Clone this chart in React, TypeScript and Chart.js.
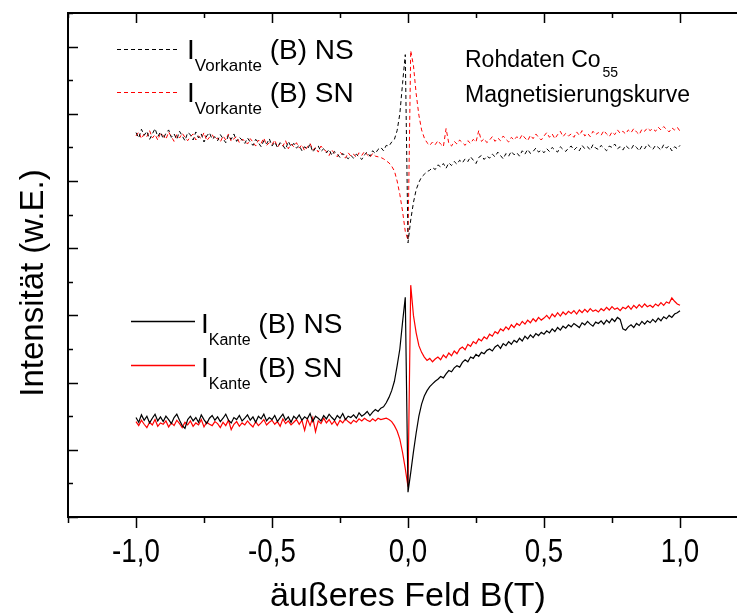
import React, { useEffect, useRef } from "react";
import { Chart, registerables } from "chart.js";

Chart.register(...registerables);

// Magnetic field B (T)
const B = [
  -1.0, -0.99, -0.98, -0.97, -0.96, -0.95, -0.94, -0.93, -0.92, -0.91,
  -0.9, -0.89, -0.88, -0.87, -0.86, -0.85, -0.84, -0.83, -0.82, -0.81,
  -0.8, -0.79, -0.78, -0.77, -0.76, -0.75, -0.74, -0.73, -0.72, -0.71,
  -0.7, -0.69, -0.68, -0.67, -0.66, -0.65, -0.64, -0.63, -0.62, -0.61,
  -0.6, -0.59, -0.58, -0.57, -0.56, -0.55, -0.54, -0.53, -0.52, -0.51,
  -0.5, -0.49, -0.48, -0.47, -0.46, -0.45, -0.44, -0.43, -0.42, -0.41,
  -0.4, -0.39, -0.38, -0.37, -0.36, -0.35, -0.34, -0.33, -0.32, -0.31,
  -0.3, -0.29, -0.28, -0.27, -0.26, -0.25, -0.24, -0.23, -0.22, -0.21,
  -0.2, -0.19, -0.18, -0.17, -0.16, -0.15, -0.14, -0.13, -0.12, -0.11,
  -0.1, -0.09, -0.08, -0.07, -0.06, -0.05, -0.04, -0.03, -0.02, -0.01,
  0.0, 0.01, 0.02, 0.03, 0.04, 0.05, 0.06, 0.07, 0.08, 0.09,
  0.1, 0.11, 0.12, 0.13, 0.14, 0.15, 0.16, 0.17, 0.18, 0.19,
  0.2, 0.21, 0.22, 0.23, 0.24, 0.25, 0.26, 0.27, 0.28, 0.29,
  0.3, 0.31, 0.32, 0.33, 0.34, 0.35, 0.36, 0.37, 0.38, 0.39,
  0.4, 0.41, 0.42, 0.43, 0.44, 0.45, 0.46, 0.47, 0.48, 0.49,
  0.5, 0.51, 0.52, 0.53, 0.54, 0.55, 0.56, 0.57, 0.58, 0.59,
  0.6, 0.61, 0.62, 0.63, 0.64, 0.65, 0.66, 0.67, 0.68, 0.69,
  0.7, 0.71, 0.72, 0.73, 0.74, 0.75, 0.76, 0.77, 0.78, 0.79,
  0.8, 0.81, 0.82, 0.83, 0.84, 0.85, 0.86, 0.87, 0.88, 0.89,
  0.9, 0.91, 0.92, 0.93, 0.94, 0.95, 0.96, 0.97, 0.98, 0.99,
  1.0,
];

// I_Vorkante(B) NS (dashed black)
const vorkanteNS = [
  5.72, 5.64, 5.77, 5.68, 5.74, 5.62, 5.70, 5.78, 5.66, 5.73,
  5.63, 5.71, 5.76, 5.65, 5.70, 5.62, 5.74, 5.67, 5.60, 5.72,
  5.69, 5.61, 5.73, 5.64, 5.70, 5.58, 5.67, 5.72, 5.62, 5.66,
  5.60, 5.69, 5.63, 5.57, 5.68, 5.62, 5.70, 5.59, 5.65, 5.61,
  5.56, 5.64, 5.58, 5.53, 5.62, 5.57, 5.51, 5.60, 5.55, 5.63,
  5.52, 5.58, 5.50, 5.57, 5.53, 5.47, 5.59, 5.51, 5.56, 5.49,
  5.53, 5.45, 5.51, 5.47, 5.55, 5.43, 5.49, 5.52, 5.44, 5.48,
  5.42, 5.47, 5.38, 5.44, 5.40, 5.35, 5.41, 5.37, 5.33, 5.38,
  5.34, 5.40, 5.36, 5.32, 5.39, 5.43, 5.37, 5.45, 5.41, 5.47,
  5.50, 5.45, 5.53, 5.52, 5.58, 5.62, 5.75, 6.00, 6.45, 6.88,
  4.08, 4.42, 4.68, 4.87, 4.98, 5.06, 5.10, 5.14, 5.16, 5.20,
  5.17, 5.24, 5.21, 5.26, 5.19, 5.27, 5.23, 5.29, 5.25, 5.31,
  5.27, 5.33, 5.29, 5.36, 5.31, 5.26, 5.35, 5.38, 5.32, 5.37,
  5.34, 5.40, 5.36, 5.43, 5.38, 5.33, 5.41, 5.37, 5.44, 5.39,
  5.42, 5.37, 5.45, 5.40, 5.47, 5.41, 5.44, 5.49, 5.43, 5.46,
  5.42, 5.48, 5.44, 5.50, 5.46, 5.43, 5.51, 5.47, 5.44, 5.49,
  5.52, 5.46, 5.50, 5.45, 5.53, 5.48, 5.51, 5.46, 5.54, 5.49,
  5.47, 5.53, 5.49, 5.45, 5.52, 5.50, 5.55, 5.48, 5.51, 5.46,
  5.53, 5.49, 5.47, 5.54, 5.50, 5.45, 5.52, 5.48, 5.55, 5.51,
  5.47, 5.53, 5.50, 5.46, 5.54, 5.49, 5.52, 5.45, 5.51, 5.48,
  5.53,
];

// I_Vorkante(B) SN (dashed red)
const vorkanteSN = [
  5.67, 5.73, 5.63, 5.70, 5.66, 5.75, 5.64, 5.69, 5.61, 5.71,
  5.68, 5.62, 5.73, 5.66, 5.59, 5.69, 5.64, 5.71, 5.65, 5.60,
  5.66, 5.70, 5.61, 5.67, 5.63, 5.72, 5.60, 5.65, 5.69, 5.62,
  5.64, 5.58, 5.67, 5.61, 5.70, 5.59, 5.63, 5.66, 5.57, 5.62,
  5.60, 5.55, 5.63, 5.58, 5.52, 5.61, 5.56, 5.64, 5.53, 5.57,
  5.54, 5.61, 5.50, 5.56, 5.52, 5.60, 5.48, 5.55, 5.51, 5.57,
  5.49, 5.54, 5.45, 5.51, 5.56, 5.46, 5.50, 5.43, 5.52, 5.47,
  5.44, 5.38, 5.46, 5.41, 5.36, 5.43, 5.39, 5.34, 5.42, 5.37,
  5.40, 5.35, 5.42, 5.38, 5.44, 5.39, 5.35, 5.41, 5.37, 5.36,
  5.35, 5.33, 5.30, 5.27, 5.22, 5.15, 5.00, 4.80, 4.55, 4.25,
  4.12, 6.94, 6.72, 6.30, 5.98, 5.76, 5.64, 5.57, 5.53, 5.58,
  5.54, 5.60, 5.55, 5.51, 5.78, 5.56, 5.52, 5.59, 5.55, 5.61,
  5.57, 5.53, 5.60, 5.56, 5.62, 5.58, 5.75, 5.59, 5.63, 5.57,
  5.61, 5.66, 5.59, 5.64, 5.60, 5.67, 5.62, 5.58, 5.65, 5.61,
  5.66, 5.62, 5.69, 5.64, 5.60, 5.68, 5.63, 5.70, 5.65, 5.61,
  5.67, 5.72, 5.65, 5.70, 5.63, 5.69, 5.74, 5.66, 5.71, 5.67,
  5.70, 5.65, 5.73, 5.68, 5.75, 5.67, 5.71, 5.66, 5.74, 5.69,
  5.72, 5.68, 5.75, 5.70, 5.66, 5.73, 5.69, 5.76, 5.71, 5.74,
  5.70, 5.76, 5.72, 5.78, 5.73, 5.69, 5.77, 5.74, 5.79, 5.75,
  5.78, 5.74, 5.80, 5.76, 5.81, 5.77, 5.73, 5.79, 5.76, 5.80,
  5.74,
];

// I_Kante(B) NS (solid black)
const kanteNS = [
  1.48, 1.41, 1.52, 1.44, 1.50, 1.40, 1.47, 1.53, 1.43, 1.49,
  1.42, 1.50, 1.45, 1.39, 1.48, 1.53, 1.44, 1.36, 1.32, 1.45,
  1.50, 1.43, 1.48, 1.41, 1.52, 1.45, 1.39, 1.47, 1.51, 1.44,
  1.49, 1.42, 1.47, 1.53, 1.44, 1.40, 1.48, 1.45, 1.51, 1.43,
  1.47, 1.52, 1.44, 1.49, 1.41, 1.50, 1.46, 1.53, 1.43, 1.48,
  1.45, 1.51, 1.42, 1.48, 1.53, 1.44, 1.49, 1.41, 1.50, 1.46,
  1.52, 1.44, 1.49, 1.46, 1.54, 1.42, 1.50, 1.47, 1.43, 1.51,
  1.46, 1.53, 1.48, 1.44, 1.51, 1.47, 1.54, 1.45, 1.50, 1.48,
  1.52, 1.47, 1.55, 1.50, 1.53, 1.57, 1.51, 1.56, 1.60, 1.57,
  1.62, 1.64, 1.70, 1.78, 1.88, 2.02, 2.25, 2.50, 2.90, 3.27,
  0.37, 0.66, 0.97, 1.25, 1.50, 1.68, 1.80, 1.88, 1.94, 1.98,
  2.02, 2.05, 2.09, 2.07, 2.13, 2.18, 2.16, 2.22, 2.25, 2.23,
  2.30, 2.34, 2.31, 2.38, 2.36, 2.42, 2.39, 2.45, 2.43, 2.48,
  2.50, 2.47, 2.53, 2.56, 2.51, 2.58, 2.55, 2.61, 2.57, 2.63,
  2.60, 2.66, 2.62, 2.69, 2.65, 2.71, 2.67, 2.73, 2.70, 2.75,
  2.72, 2.77, 2.74, 2.80, 2.76, 2.82, 2.78, 2.84, 2.81, 2.86,
  2.83, 2.88, 2.85, 2.82, 2.89, 2.86, 2.91, 2.87, 2.84, 2.90,
  2.88, 2.92, 2.87, 2.93, 2.89, 2.95, 2.91, 2.97, 2.94, 2.80,
  2.78, 2.83, 2.86, 2.82, 2.88, 2.85, 2.91, 2.87, 2.92, 2.89,
  2.94, 2.90, 2.96, 2.92, 2.98, 2.95, 3.00, 2.97, 3.02, 3.04,
  3.07,
];

// I_Kante(B) SN (solid red)
const kanteSN = [
  1.42, 1.36, 1.44, 1.38, 1.33, 1.41, 1.37, 1.45, 1.35, 1.40,
  1.38, 1.43, 1.34, 1.40, 1.36, 1.44, 1.39, 1.33, 1.41, 1.37,
  1.43, 1.35, 1.40, 1.37, 1.45, 1.34, 1.41, 1.38, 1.36, 1.42,
  1.39, 1.33, 1.41, 1.36, 1.44, 1.30, 1.38, 1.42, 1.35, 1.40,
  1.37, 1.43, 1.38, 1.34, 1.42, 1.36, 1.40, 1.45, 1.37, 1.41,
  1.44, 1.38, 1.42, 1.35, 1.46, 1.39, 1.43, 1.37, 1.41, 1.45,
  1.38, 1.44, 1.29, 1.46, 1.36, 1.48, 1.27, 1.43, 1.39, 1.47,
  1.40, 1.45, 1.38, 1.43, 1.36, 1.44, 1.40, 1.46, 1.42, 1.39,
  1.44, 1.41, 1.46, 1.43, 1.47, 1.44, 1.42, 1.46, 1.43, 1.47,
  1.45, 1.46, 1.47, 1.45, 1.42, 1.36, 1.28, 1.16, 0.96, 0.72,
  0.45, 3.45, 3.00, 2.74, 2.55, 2.45, 2.38, 2.33, 2.36, 2.31,
  2.35, 2.38, 2.34, 2.41, 2.37, 2.44, 2.40, 2.47, 2.43, 2.50,
  2.53, 2.49, 2.57, 2.54, 2.61, 2.58, 2.65, 2.62, 2.68, 2.65,
  2.72, 2.69, 2.76, 2.73, 2.80, 2.77, 2.83, 2.79, 2.86, 2.82,
  2.88, 2.85, 2.91, 2.87, 2.93, 2.89, 2.95, 2.91, 2.97, 2.93,
  2.96, 3.00, 2.95, 3.02, 2.98, 3.04, 2.99, 3.05, 3.01, 3.06,
  3.03, 3.07, 3.02, 3.08, 3.04, 3.09, 3.05, 3.10, 3.06, 3.08,
  3.05, 3.10, 3.07, 3.12, 3.08, 3.13, 3.09, 3.11, 3.07, 3.12,
  3.10, 3.14, 3.09, 3.15, 3.11, 3.16, 3.12, 3.17, 3.13, 3.15,
  3.12, 3.17, 3.14, 3.19, 3.15, 3.20, 3.18, 3.26, 3.21, 3.17,
  3.15,
];

const xTickLabels = [-1.0, -0.5, 0.0, 0.5, 1.0];
const xTitle = "äußeres Feld B(T)";
const yTitle = "Intensität (w.E.)";
const FONT = '"Liberation Sans", Arial, sans-serif';

function font(size: number) {
  return `${size}px ${FONT}`;
}

const decorPlugin = {
  id: "decor",
  afterDraw(chart: any) {
    const ctx = chart.ctx as CanvasRenderingContext2D;
    const { left, right, top, bottom } = chart.chartArea;
    const xs = chart.scales.x;
    const ys = chart.scales.y;
    ctx.save();
    ctx.strokeStyle = "#000";
    ctx.fillStyle = "#000";

    // frame
    ctx.lineWidth = 2;
    ctx.setLineDash([]);
    ctx.strokeRect(left, top, right - left, bottom - top);

    // x ticks
    ctx.lineWidth = 1.5;
    for (let k = -5; k <= 5; k++) {
      const v = k * 0.25;
      const px = Math.round(xs.getPixelForValue(v)) + 0.5;
      const major = k % 2 === 0;
      ctx.beginPath();
      ctx.moveTo(px, bottom);
      ctx.lineTo(px, bottom + (major ? 11 : 6));
      ctx.moveTo(px, top);
      ctx.lineTo(px, top + (major ? 10 : 5));
      ctx.stroke();
    }
    // y ticks
    for (let k = 0; k <= 15; k++) {
      const v = k * 0.5;
      const py = Math.round(ys.getPixelForValue(v)) + 0.5;
      const major = k % 2 === 0;
      ctx.beginPath();
      ctx.moveTo(left, py);
      ctx.lineTo(left + (major ? 10 : 5), py);
      ctx.moveTo(right, py);
      ctx.lineTo(right - (major ? 10 : 5), py);
      ctx.stroke();
    }

    // x tick labels
    ctx.font = font(33);
    ctx.textAlign = "center";
    ctx.textBaseline = "alphabetic";
    for (const v of xTickLabels) {
      const px = xs.getPixelForValue(v);
      ctx.save();
      ctx.translate(px, 562);
      ctx.scale(0.84, 1);
      ctx.fillText(v.toFixed(1).replace(".", ","), 0, 0);
      ctx.restore();
    }

    // x title
    ctx.font = font(34);
    ctx.fillText(xTitle, xs.getPixelForValue(0), 606);

    // y title
    ctx.save();
    ctx.translate(43, 283);
    ctx.rotate(-Math.PI / 2);
    ctx.font = font(33);
    ctx.textAlign = "center";
    ctx.fillText(yTitle, 0, 0);
    ctx.restore();

    // legends
    const legendItem = (
      x1: number, x2: number, ly: number, color: string, dashed: boolean, lw: number,
      tx: number, base: number, sub: string, rest: string, big: number, small: number
    ) => {
      ctx.save();
      ctx.strokeStyle = color;
      ctx.lineWidth = lw;
      ctx.setLineDash(dashed ? [4, 3] : []);
      ctx.beginPath();
      ctx.moveTo(x1, ly + 0.5);
      ctx.lineTo(x2, ly + 0.5);
      ctx.stroke();
      ctx.restore();
      ctx.textAlign = "left";
      ctx.font = font(big);
      ctx.fillText("I", tx, base);
      const iw = ctx.measureText("I").width;
      ctx.font = font(small);
      ctx.fillText(sub, tx + iw, base + 12);
      const sw = ctx.measureText(sub).width;
      ctx.font = font(big);
      ctx.fillText(" " + rest, tx + iw + sw, base);
    };
    legendItem(117, 180, 49, "#000", true, 1, 187, 59, "Vorkante", "(B) NS", 28, 17);
    legendItem(117, 180, 92, "#ff0000", true, 1, 187, 102, "Vorkante", "(B) SN", 28, 17);
    legendItem(131, 195, 321, "#000", false, 1.3, 201, 333, "Kante", "(B) NS", 28, 16);
    legendItem(131, 195, 365, "#ff0000", false, 1.3, 201, 377, "Kante", "(B) SN", 28, 16);

    // annotation
    ctx.textAlign = "left";
    ctx.font = font(23);
    ctx.fillText("Rohdaten Co", 465, 67);
    const rw = ctx.measureText("Rohdaten Co").width;
    ctx.font = font(14);
    ctx.fillText("55", 465 + rw + 2, 77);
    ctx.font = font(23);
    ctx.fillText("Magnetisierungskurve", 465, 102);

    ctx.restore();
  },
};

export default function App() {
  const ref = useRef<HTMLCanvasElement | null>(null);
  useEffect(() => {
    if (!ref.current) return;
    const mk = (arr: number[]) => B.map((x, i) => ({ x, y: arr[i] }));
    const chart = new Chart(ref.current, {
      type: "line",
      data: {
        datasets: [
          { label: "I_Vorkante (B) NS", data: mk(vorkanteNS), borderColor: "#000", borderWidth: 1, borderDash: [4, 3], pointRadius: 0, tension: 0, fill: false },
          { label: "I_Vorkante (B) SN", data: mk(vorkanteSN), borderColor: "#ff0000", borderWidth: 1, borderDash: [4, 3], pointRadius: 0, tension: 0, fill: false },
          { label: "I_Kante (B) NS", data: mk(kanteNS), borderColor: "#000", borderWidth: 1.2, pointRadius: 0, tension: 0, fill: false },
          { label: "I_Kante (B) SN", data: mk(kanteSN), borderColor: "#ff0000", borderWidth: 1.2, pointRadius: 0, tension: 0, fill: false },
        ],
      },
      options: {
        responsive: false,
        animation: false,
        devicePixelRatio: 1,
        layout: { padding: { left: 0, top: 13, right: 12, bottom: 0 } },
        plugins: { legend: { display: false }, tooltip: { enabled: false } },
        scales: {
          x: {
            type: "linear",
            min: -1.25,
            max: 1.25,
            grid: { display: false },
            border: { display: false },
            ticks: { display: false },
            afterFit: (s: any) => { s.height = 97; },
          },
          y: {
            type: "linear",
            min: 0,
            max: 7.5,
            grid: { display: false },
            border: { display: false },
            ticks: { display: false },
            afterFit: (s: any) => { s.width = 68; },
          },
        },
      } as any,
      plugins: [decorPlugin],
    });
    return () => chart.destroy();
  }, []);
  return (
    <div style={{ position: "fixed", left: 0, top: 0, width: 737, height: 614, overflow: "hidden", background: "#fff" }}>
      <canvas ref={ref} width={760} height={614} style={{ display: "block" }} />
    </div>
  );
}
